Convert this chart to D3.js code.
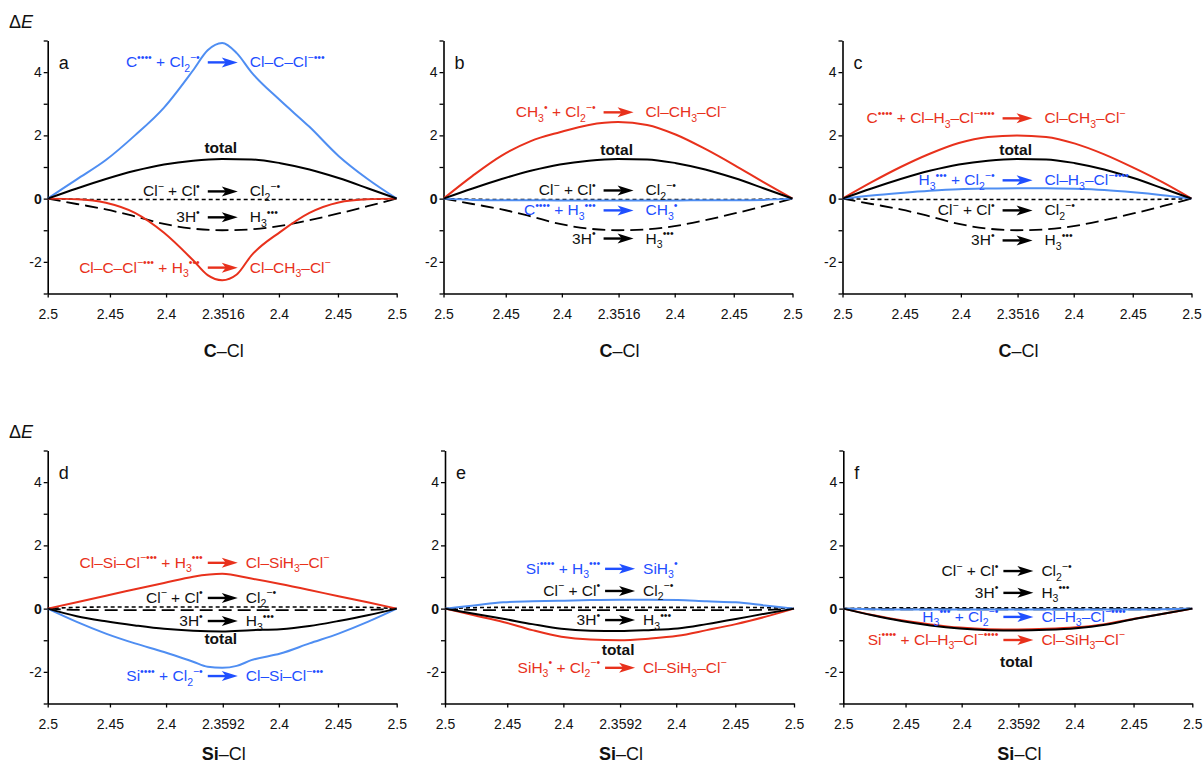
<!DOCTYPE html>
<html><head><meta charset="utf-8">
<script src="https://cdn.jsdelivr.net/npm/d3@7"></script>
<style>
body{margin:0;background:#fff;}
svg text{font-family:"Liberation Sans",Arial,Helvetica,sans-serif;}
</style></head>
<body><svg id="chart" width="1204" height="763"></svg>
<script>
// ---------- data ----------
const steps = [0,1,2,3,4,5,6,7,8,9,10,11,12];
const stepsFine = [0,1,2,3,4,5,5.5,6,6.5,7,8,9,10,11,12];
const xTickPos = [0, 2.14, 4.07, 6.02, 7.95, 9.98, 12];
const xTickLabelsC = ["2.5","2.45","2.4","2.3516","2.4","2.45","2.5"];
const xTickLabelsSi = ["2.5","2.45","2.4","2.3592","2.4","2.45","2.5"];
const yTicks = [-3,-2,-1,0,1,2,3,4,5];
const yTickLabels = {"-2":"-2","0":"0","2":"2","4":"4"};
const panelLetters = ["a","b","c","d","e","f"];

// C–Cl panels (a, b, c)
const totalC = [0,0.32,0.62,0.88,1.08,1.2,1.25,1.24,1.12,0.92,0.65,0.33,0];
const h3C    = [0,-0.17,-0.34,-0.56,-0.8,-0.95,-1.0,-0.97,-0.86,-0.68,-0.47,-0.24,0];
const cl2C   = [0,-0.02,-0.03,-0.03,-0.03,-0.03,-0.03,-0.03,-0.03,-0.03,-0.03,-0.02,0];
const aBlue  = [0,0.61,1.22,2.0,2.88,4.06,4.69,4.92,4.6,4.0,3.1,2.27,1.35,0.62,0]; // fine
const aRed   = [0,-0.02,-0.13,-0.45,-1.08,-1.95,-2.42,-2.58,-2.4,-1.8,-1.05,-0.45,-0.12,-0.02,0]; // fine
const bRed   = [0,0.72,1.36,1.82,2.1,2.33,2.42,2.33,2.02,1.57,1.06,0.52,0];
const bBlue  = [0,-0.04,-0.05,-0.05,-0.06,-0.06,-0.06,-0.06,-0.06,-0.05,-0.05,-0.04,0];
const cRed   = [0,0.52,1.0,1.42,1.76,1.95,2.0,1.95,1.74,1.4,0.98,0.52,0];
const cBlue  = [0,0.1,0.18,0.25,0.3,0.32,0.33,0.33,0.31,0.27,0.2,0.11,0];

// Si–Cl panels (d, e, f)
const dRed   = [0,0.2,0.41,0.61,0.81,1.01,1.1,0.95,0.78,0.59,0.39,0.2,0];
const dBlue  = [0,-0.42,-0.79,-1.1,-1.37,-1.68,-1.84,-1.87,-1.81,-1.63,-1.42,-1.1,-0.79,-0.42,0]; // fine
const dTotal = [0,-0.24,-0.4,-0.53,-0.64,-0.7,-0.72,-0.68,-0.65,-0.55,-0.39,-0.21,0];
const dCl2   = [0,0.04,0.05,0.05,0.05,0.05,0.05,0.05,0.05,0.05,0.05,0.04,0];
const dH3    = [0,-0.04,-0.05,-0.05,-0.05,-0.05,-0.05,-0.05,-0.05,-0.05,-0.05,-0.04,0];
const eBlue  = [0,0.1,0.2,0.23,0.25,0.27,0.28,0.28,0.27,0.23,0.2,0.1,0];
const eRed   = [0,-0.21,-0.42,-0.68,-0.89,-0.98,-1.0,-0.95,-0.86,-0.68,-0.49,-0.26,0];
const eTotal = [0,-0.16,-0.32,-0.49,-0.64,-0.7,-0.71,-0.68,-0.63,-0.49,-0.33,-0.16,0];
const eCl2   = [0,0.03,0.04,0.04,0.04,0.04,0.04,0.04,0.04,0.04,0.04,0.03,0];
const eH3    = [0,-0.04,-0.05,-0.05,-0.05,-0.05,-0.05,-0.05,-0.05,-0.05,-0.05,-0.04,0];
const fTotal = [0,-0.21,-0.39,-0.53,-0.63,-0.68,-0.69,-0.67,-0.62,-0.51,-0.33,-0.16,0];
const fRed   = [0,-0.2,-0.37,-0.5,-0.6,-0.65,-0.66,-0.64,-0.59,-0.49,-0.32,-0.16,0];
const fBlue  = [0,-0.02,-0.03,-0.03,-0.03,-0.03,-0.03,-0.03,-0.03,-0.03,-0.03,-0.02,0];
const fCl2   = [0,0.02,0.03,0.03,0.03,0.03,0.03,0.03,0.03,0.03,0.03,0.02,0];
const fH3    = [0,-0.02,-0.02,-0.02,-0.02,-0.02,-0.02,-0.02,-0.02,-0.02,-0.02,-0.02,0];

// reaction labels: [left, right, colour key, y (data units of baseline)]
const labelsA = [["C^{••••} + Cl_{2}^{−•}","Cl–C–Cl^{−•••}","blue",4.15],
                 ["Cl^{−} + Cl^{•}","Cl_{2}^{−•}","black",0.07],
                 ["3H^{•}","H_{3}^{•••}","black",-0.75],
                 ["Cl–C–Cl^{−•••} + H_{3}^{•••}","Cl–CH_{3}–Cl^{−}","red",-2.34]];
const labelsB = [["CH_{3}^{•} + Cl_{2}^{−•}","Cl–CH_{3}–Cl^{−}","red",2.57],
                 ["Cl^{−} + Cl^{•}","Cl_{2}^{−•}","black",0.1],
                 ["C^{••••} + H_{3}^{•••}","CH_{3}^{•}","blue",-0.53],
                 ["3H^{•}","H_{3}^{•••}","black",-1.42]];
const labelsC = [["C^{••••} + Cl–H_{3}–Cl^{−••••}","Cl–CH_{3}–Cl^{−}","red",2.38],
                 ["H_{3}^{•••} + Cl_{2}^{−•}","Cl–H_{3}–Cl^{−••••}","blue",0.42],
                 ["Cl^{−} + Cl^{•}","Cl_{2}^{−•}","black",-0.53],
                 ["3H^{•}","H_{3}^{•••}","black",-1.48]];
const labelsD = [["Cl–Si–Cl^{−•••} + H_{3}^{•••}","Cl–SiH_{3}–Cl^{−}","red",1.29],
                 ["Cl^{−} + Cl^{•}","Cl_{2}^{−•}","black",0.18],
                 ["3H^{•}","H_{3}^{•••}","black",-0.55],
                 ["Si^{••••} + Cl_{2}^{−•}","Cl–Si–Cl^{−•••}","blue",-2.29]];
const labelsE = [["Si^{••••} + H_{3}^{•••}","SiH_{3}^{•}","blue",1.1],
                 ["Cl^{−} + Cl^{•}","Cl_{2}^{−•}","black",0.4],
                 ["3H^{•}","H_{3}^{•••}","black",-0.52],
                 ["SiH_{3}^{•} + Cl_{2}^{−•}","Cl–SiH_{3}–Cl^{−}","red",-2.03]];
const labelsF = [["Cl^{−} + Cl^{•}","Cl_{2}^{−•}","black",1.03],
                 ["3H^{•}","H_{3}^{•••}","black",0.34],
                 ["H_{3}^{•••} + Cl_{2}^{−•}","Cl–H_{3}–Cl^{−••••}","blue",-0.42],
                 ["Si^{••••} + Cl–H_{3}–Cl^{−••••}","Cl–SiH_{3}–Cl^{−}","red",-1.15]];
const totalLabelY = [1.43,1.37,1.37,-1.12,-1.47,-1.85];

// ---------- styles / layout ----------
const col = {blueLine:"#4f8ef2", blueText:"#1f4fff", red:"#e8311c", black:"#000"};
const textCol = {blue:col.blueText, red:col.red, black:"#111"};
const panelLeft = [47.7, 443.5, 842.5, 47.7, 445, 843.3];
const panelTop = [40.5, 40.5, 40.5, 450.5, 450.5, 450.5];
const PW = 349, PH = 253;
const FS = 15.5, SFS = 10.5;

const panels = [
  {series:[[steps,cl2C,"s"],[steps,h3C,"l"],[stepsFine,aRed,"r"],[stepsFine,aBlue,"b"],[steps,totalC,"t"]], labels:labelsA, xl:xTickLabelsC, title:"C"},
  {series:[[steps,cl2C,"s"],[steps,h3C,"l"],[steps,bRed,"r"],[steps,bBlue,"b"],[steps,totalC,"t"]], labels:labelsB, xl:xTickLabelsC, title:"C"},
  {series:[[steps,cl2C,"s"],[steps,h3C,"l"],[steps,cRed,"r"],[steps,cBlue,"b"],[steps,totalC,"t"]], labels:labelsC, xl:xTickLabelsC, title:"C"},
  {series:[[steps,dCl2,"s"],[steps,dH3,"l"],[steps,dRed,"r"],[stepsFine,dBlue,"b"],[steps,dTotal,"t"]], labels:labelsD, xl:xTickLabelsSi, title:"Si"},
  {series:[[steps,eCl2,"s"],[steps,eH3,"l"],[steps,eRed,"r"],[steps,eBlue,"b"],[steps,eTotal,"t"]], labels:labelsE, xl:xTickLabelsSi, title:"Si"},
  {series:[[steps,fCl2,"s"],[steps,fH3,"l"],[steps,fRed,"r"],[steps,fBlue,"b"],[steps,fTotal,"t"]], labels:labelsF, xl:xTickLabelsSi, title:"Si"}
];

const svg = d3.select("#chart");

function rich(text, str, small){
  const re = /([_^])\{([^}]*)\}|([^_^]+)/g;
  let m, cur = 0;
  while ((m = re.exec(str))) {
    let target, content, fs = null;
    if (m[3] !== undefined) { target = 0; content = m[3]; }
    else if (m[1] === "_") { target = 4.5; content = m[2]; fs = small; }
    else { target = -6.5; content = m[2]; fs = small; }
    const t = text.append("tspan").attr("dy", target - cur).text(content);
    if (fs) t.attr("font-size", fs);
    cur = target;
  }
}

// ΔE labels
[28, 438].forEach(yb => {
  const t = svg.append("text").attr("x", 9).attr("y", yb).attr("font-size", 18).attr("fill","#111");
  t.append("tspan").text("Δ");
  t.append("tspan").attr("font-style","italic").text("E");
});

panels.forEach((p, pi) => {
  const L = panelLeft[pi], T = panelTop[pi];
  const x = d3.scaleLinear().domain([0, 12]).range([L, L + PW]);
  const y = d3.scaleLinear().domain([-3, 5]).range([T + PH, T]);
  const g = svg.append("g");
  const top = pi < 3;

  // axes
  const ya = g.append("g").attr("transform", `translate(${L},0)`)
    .call(d3.axisLeft(y).tickValues(yTicks).tickSize(4).tickSizeOuter(0)
      .tickFormat(d => yTickLabels[String(d)] || ""));
  ya.selectAll("text").attr("font-size", 14).attr("fill","#111")
    .attr("font-weight", d => d === 0 ? "bold" : "normal")
    .attr("font-family", '"Liberation Sans",Arial,sans-serif').attr("x", -6);
  const xa = g.append("g").attr("transform", `translate(0,${T + PH})`)
    .call(d3.axisBottom(x).tickValues(xTickPos).tickSize(4).tickSizeOuter(0)
      .tickFormat((d, i) => p.xl[i]));
  xa.selectAll("text").attr("font-size", 14).attr("fill","#111")
    .attr("font-family", '"Liberation Sans",Arial,sans-serif').attr("y", 16);
  [ya, xa].forEach(a => {
    a.select(".domain").attr("stroke", "#000").attr("stroke-width", 1.6);
    a.selectAll(".tick line").attr("stroke", "#000").attr("stroke-width", 1.3);
  });

  // curves
  p.series.forEach(([xs, ys, kind]) => {
    const pts = xs.map((v, i) => [v, ys[i]]);
    const line = d3.line().x(d => x(d[0])).y(d => y(d[1])).curve(d3.curveMonotoneX);
    const path = g.append("path").datum(pts).attr("d", line).attr("fill", "none");
    if (kind === "s") path.attr("stroke", "#000").attr("stroke-width", 1.6).attr("stroke-dasharray", "4,3");
    else if (kind === "l") path.attr("stroke", "#000").attr("stroke-width", 1.8).attr("stroke-dasharray", "13,6");
    else if (kind === "r") path.attr("stroke", col.red).attr("stroke-width", 2);
    else if (kind === "b") path.attr("stroke", col.blueLine).attr("stroke-width", 2);
    else path.attr("stroke", "#000").attr("stroke-width", 2);
  });

  const cx = x(6.02);
  const gapL = top ? 23 : 20, gapR = top ? 27 : 23;

  // reaction labels with arrows
  p.labels.forEach(([left, right, c, yv]) => {
    const yb = y(yv);
    const fill = textCol[c];
    const arrowCol = c === "black" ? "#000" : (c === "blue" ? col.blueText : col.red);
    const lt = g.append("text").attr("x", cx - gapL).attr("y", yb).attr("text-anchor", "end")
      .attr("font-size", FS).attr("fill", fill);
    rich(lt, left, SFS);
    const rt = g.append("text").attr("x", cx + gapR).attr("y", yb).attr("text-anchor", "start")
      .attr("font-size", FS).attr("fill", fill);
    rich(rt, right, SFS);
    const ay = yb - 5, x0 = cx - 15, x1 = cx + 15;
    g.append("line").attr("x1", x0).attr("x2", x1 - 8).attr("y1", ay).attr("y2", ay)
      .attr("stroke", arrowCol).attr("stroke-width", 2.4);
    g.append("path").attr("d", `M${x1},${ay} L${x1-16},${ay-5} L${x1-12},${ay} L${x1-16},${ay+5} Z`)
      .attr("fill", arrowCol);
  });

  // total label
  g.append("text").attr("x", cx - 2).attr("y", y(totalLabelY[pi])).attr("text-anchor", "middle")
    .attr("font-size", FS).attr("font-weight", "bold").attr("fill", "#111").text("total");

  // panel letter
  g.append("text").attr("x", L + 11).attr("y", T + 28).attr("font-size", 18).attr("fill", "#111")
    .text(panelLetters[pi]);

  // x-axis title
  const tt = g.append("text").attr("x", cx + 1).attr("y", top ? 357 : 760).attr("text-anchor", "middle")
    .attr("font-size", 18).attr("fill", "#111");
  tt.append("tspan").attr("font-weight", "bold").text(p.title);
  tt.append("tspan").text("–Cl");
});
</script></body></html>
